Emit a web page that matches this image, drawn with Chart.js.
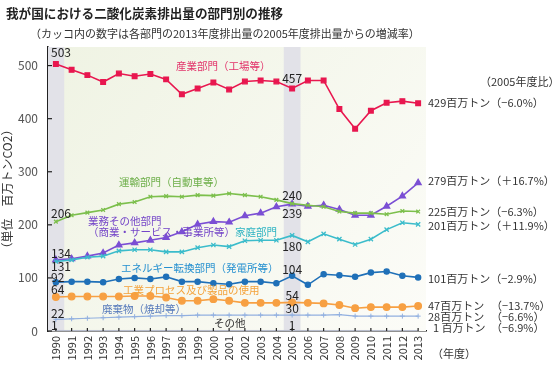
<!DOCTYPE html>
<html lang="ja">
<head>
<meta charset="utf-8">
<script src="https://cdn.jsdelivr.net/npm/chart.js@4.4.1/dist/chart.umd.min.js"></script>
<style>
  html, body { margin: 0; padding: 0; background: #fff; }
  #wrap { position: relative; width: 560px; height: 366px; font-family: "Noto Sans CJK JP", sans-serif; }
  #title { position: absolute; left: 6px; top: 3px; font-size: 12.6px; font-weight: bold; color: #222; white-space: nowrap; }
  #sub { position: absolute; left: 30px; top: 25px; font-size: 11px; color: #333; white-space: nowrap; }
  canvas { position: absolute; left: 0; top: 0; }
</style>
</head>
<body>
<div id="wrap">
  <canvas id="chart" width="560" height="366"></canvas>
  <div id="title">我が国における二酸化炭素排出量の部門別の推移</div>
  <div id="sub">（カッコ内の数字は各部門の2013年度排出量の2005年度排出量からの増減率）</div>
</div>
<script>
// years (fiscal)
const years = ['1990','1991','1992','1993','1994','1995','1996','1997','1998','1999','2000','2001',
               '2002','2003','2004','2005','2006','2007','2008','2009','2010','2011','2012','2013'];

// emissions, million t-CO2
const industry   = [503,492,482,469,485,480,484,474,446,457,468,455,470,472,470,457,472,472,418,381,415,430,433,429];
const transport  = [206,218,223,228,239,243,253,254,253,256,255,259,256,253,247,240,237,234,225,222,222,220,226,225];
const commercial = [134,136,141,147,162,166,171,176,187,201,206,205,217,222,234,239,235,237,229,218,218,235,254,279];
const household  = [131,134,139,141,151,153,153,149,149,157,162,159,170,171,171,180,168,183,173,163,173,191,204,201];
const energy     = [92,93,93,92,98,100,98,102,93,93,90,88,93,93,90,104,87,107,105,102,110,112,104,101];
const process    = [64,65,65,65,65,66,66,63,57,57,60,57,53,53,53,54,53,52,49,43,45,45,45,47];
const waste      = [22,23,24,25,26,27,28,29,29,30,30,30,30,30,30,30,30,30,31,28,28,28,28,28];
const other      = [1,1,1,1,1,1,1,1,1,1,1,1,1,1,1,1,1,1,1,1,1,1,1,1];

const yTicks = [0, 100, 200, 300, 400, 500];

// right-side summary labels
const endLabels = [
  { v: '429百万トン（−6.0%）',  y: 103 },
  { v: '279百万トン（＋16.7%）', y: 181 },
  { v: '225百万トン（−6.3%）',  y: 212 },
  { v: '201百万トン（＋11.9%）', y: 226 },
  { v: '101百万トン（−2.9%）',  y: 279 },
  { v: '47百万トン',  p: '（−13.7%）', y: 306 },
  { v: '28百万トン',  p: '（−6.6%）',  y: 317 },
  { v: '1 百万トン',  p: '（−6.9%）',  y: 328 }
];

// values printed in the shaded 1990 / 2005 columns
const marks1990 = [['503', 52], ['206', 213], ['134', 253], ['131', 266], ['92', 277], ['64', 289], ['22', 313], ['1', 325]];
const marks2005 = [['457', 78], ['240', 195], ['239', 213], ['180', 246], ['104', 269], ['54', 295], ['30', 308], ['1', 325]];

// sector names inside the plot
const sectorNames = [
  ['産業部門（工場等）', 176, 66, '#e2336a'],
  ['運輸部門（自動車等）', 119, 182, '#6cae48'],
  ['業務その他部門', 88, 221, '#7445c8'],
  ['（商業・サービス・事業所等）', 88, 232, '#7445c8'],
  ['家庭部門', 235, 232, '#2db3c2'],
  ['エネルギー転換部門（発電所等）', 121, 268, '#2590d0'],
  ['工業プロセス及び製品の使用', 123, 290, '#f4a23a'],
  ['廃棄物（焼却等）', 102, 309, '#5579bb'],
  ['その他', 214, 323, '#333']
];

const FONT = '"Noto Sans CJK JP", sans-serif';

const backdrop = {
  id: 'backdrop',
  beforeDatasetsDraw(chart) {
    const { ctx, chartArea: a, scales: { x } } = chart;
    ctx.save();
    const g = ctx.createLinearGradient(a.left, a.top, a.right, a.bottom);
    g.addColorStop(0, '#eff3e3');
    g.addColorStop(1, '#fcfcf8');
    ctx.fillStyle = g;
    ctx.fillRect(a.left, a.top, a.right - a.left, a.bottom - a.top);
    // shaded base years
    ctx.fillStyle = '#e2e2e8';
    const half = (x.getPixelForValue(1) - x.getPixelForValue(0)) / 2 + 0.5;
    ['1990', '2005'].forEach(yr => {
      const px = x.getPixelForValue(years.indexOf(yr));
      const l = Math.max(a.left, px - half);
      ctx.fillRect(l, a.top, px + half - l, a.bottom - a.top);
    });
    ctx.restore();
  }
};

const annotations = {
  id: 'annotations',
  afterDraw(chart) {
    const { ctx, chartArea: a, scales: { x, y } } = chart;
    ctx.save();
    // inner tick marks
    ctx.strokeStyle = '#222';
    ctx.lineWidth = 1.2;
    yTicks.forEach(t => {
      const py = y.getPixelForValue(t);
      ctx.beginPath(); ctx.moveTo(a.left, py); ctx.lineTo(a.left + 4, py); ctx.stroke();
    });
    years.forEach((_, i) => {
      const px = x.getPixelForValue(i);
      ctx.beginPath(); ctx.moveTo(px, a.bottom); ctx.lineTo(px, a.bottom - 3); ctx.stroke();
    });

    ctx.textBaseline = 'middle';
    ctx.font = '12px ' + FONT;
    ctx.fillStyle = '#222';
    ctx.textAlign = 'left';
    marks1990.forEach(([t, py]) => ctx.fillText(t, a.left + 3, py));
    ctx.textAlign = 'center';
    const x05 = x.getPixelForValue(years.indexOf('2005'));
    marks2005.forEach(([t, py]) => ctx.fillText(t, x05, py));

    ctx.textAlign = 'left';
    ctx.font = '10.5px ' + FONT;
    sectorNames.forEach(([t, px, py, c]) => { ctx.fillStyle = c; ctx.fillText(t, px, py); });

    ctx.font = '11px ' + FONT;
    ctx.fillStyle = '#333';
    endLabels.forEach(l => {
      ctx.fillText(l.v, l.v.startsWith('1 ') ? 433 : 428, l.y);
      if (l.p) ctx.fillText(l.p, 491, l.y);
    });
    ctx.fillText('（2005年度比）', 480, 82);
    ctx.fillText('（年度）', 432, 354);
    ctx.restore();
  }
};

const line = (data, color, style, r, extra) => Object.assign({
  data, borderColor: color, backgroundColor: color, borderWidth: 1.6,
  pointStyle: style, pointRadius: r, pointBorderWidth: 1.3, tension: 0
}, extra || {});

new Chart(document.getElementById('chart'), {
  type: 'line',
  data: {
    labels: years,
    datasets: [
      line(other, '#b6bccc', 'line', 0, { borderWidth: 1 }),
      line(waste, '#92b0e0', 'cross', 2.5, { borderWidth: 1.2, pointBorderWidth: 1 }),
      line(process, '#f7a043', 'circle', 3.3),
      line(energy, '#1f70b8', 'circle', 2.6),
      line(household, '#3bbccb', 'crossRot', 3),
      line(transport, '#7cbf4c', 'crossRot', 2.6),
      line(commercial, '#7b4fd4', 'triangle', 3.5),
      line(industry, '#e8174f', 'rect', 3.3)
    ]
  },
  options: {
    responsive: false,
    animation: false,
    layout: { padding: { top: 47, right: 134, left: 0, bottom: 0 } },
    plugins: { legend: { display: false }, tooltip: { enabled: false } },
    scales: {
      x: {
        offset: true,
        grid: { display: false, drawTicks: false },
        border: { color: '#222', width: 1.5 },
        ticks: { autoSkip: false, minRotation: 90, maxRotation: 90, padding: 5,
                 color: '#333', font: { family: FONT, size: 11 } },
        afterFit(s) { s.height = 35; }
      },
      y: {
        min: 0, max: 535,
        grid: { display: false, drawTicks: false },
        border: { color: '#222', width: 1.5 },
        ticks: { stepSize: 100, padding: 10, color: '#555', font: { family: FONT, size: 12 } },
        afterBuildTicks(s) { s.ticks = s.ticks.filter(t => yTicks.includes(t.value)); },
        title: { display: true, text: '（単位　百万トンCO2）', color: '#333',
                 font: { family: FONT, size: 12 }, padding: 0 },
        afterFit(s) { s.width = 48; }
      }
    }
  },
  plugins: [backdrop, annotations]
});
</script>
</body>
</html>
